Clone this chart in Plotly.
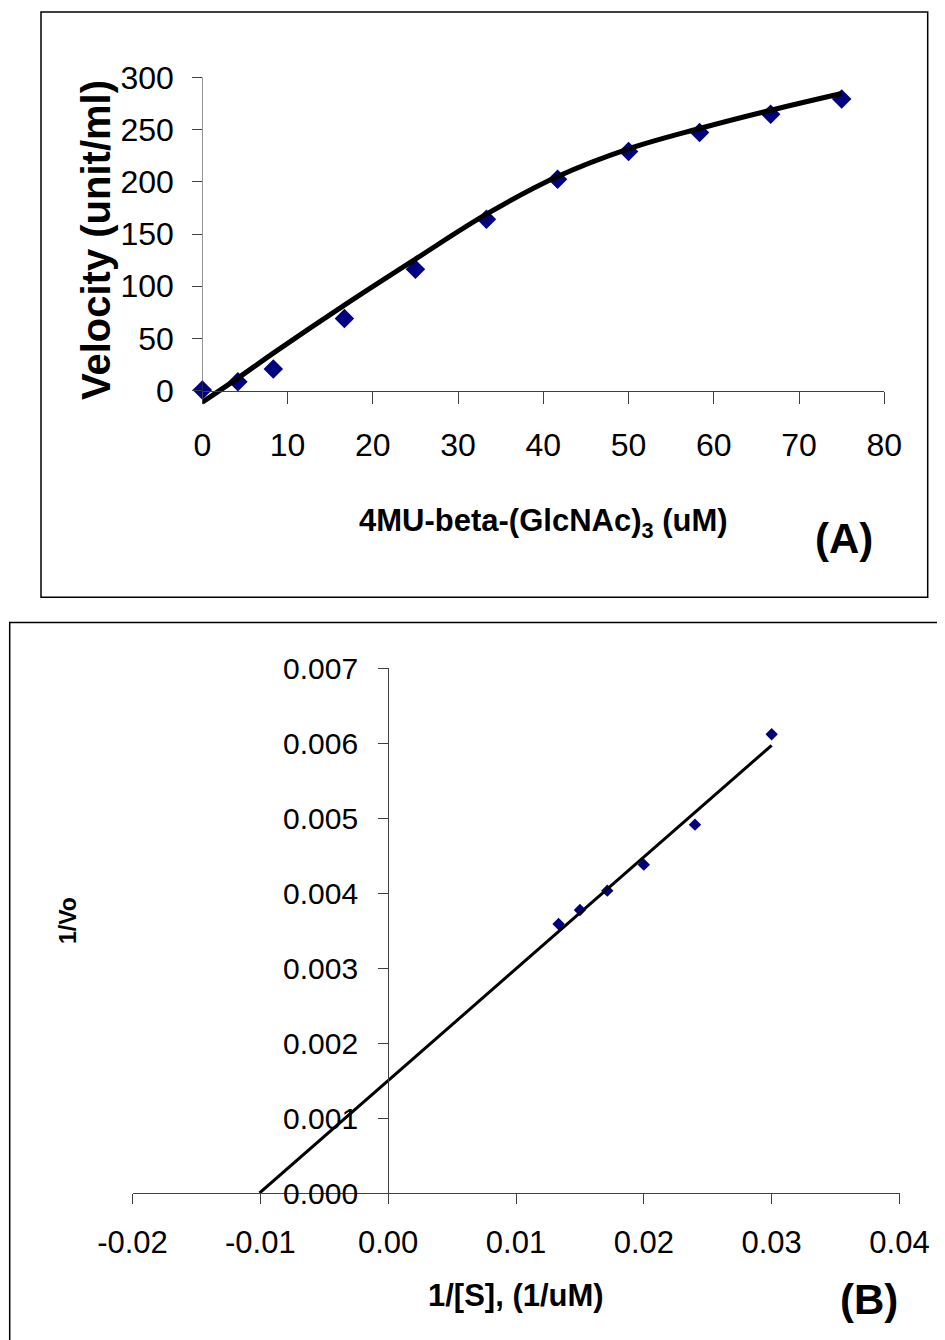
import plotly.graph_objects as go
import numpy as np

# ---------------- data ----------------
# Panel A: substrate concentration vs velocity
conc_uM = [0, 4.17, 8.33, 16.67, 25, 33.33, 41.67, 50, 58.33, 66.67, 75]
velocity = [0.7, 8.6, 20.7, 69.2, 116.3, 164, 202.3, 229, 247.2, 264.7, 279.3]
# fitted (smoothed) curve
fit_conc = [0, 4.17, 8.33, 16.67, 25, 33.33, 41.67, 50, 58.33, 66.67, 75]
fit_vel = [-11, 12, 36, 82, 126, 169, 205, 231.5, 251, 268.5, 284.5]
a_xticks = [0, 10, 20, 30, 40, 50, 60, 70, 80]
a_yticks = [0, 50, 100, 150, 200, 250, 300]

# Panel B: Lineweaver-Burk
inv_S = [0.01333, 0.015, 0.01714, 0.02, 0.024, 0.03]
inv_V = [0.003587, 0.003773, 0.004031, 0.004378, 0.004911, 0.006116]
b_xticks = [-0.02, -0.01, 0.0, 0.01, 0.02, 0.03, 0.04]
b_yticks = [0.0, 0.001, 0.002, 0.003, 0.004, 0.005, 0.006, 0.007]

# page body has an 8px margin; figure is sized so the page fits the window
OFF = 8
W, H = 945 - OFF, 1340 - OFF
def px(x):
    return (x - OFF) / W
def py(y):
    return 1 - (y - OFF) / H

ARIAL = "Liberation Sans, Arial"
NAVY = "#000080"
AX = "#404040"

# linear trendline from data
m, b = np.polyfit(inv_S, inv_V, 1)
xB = np.array([-b / m, max(inv_S)])
yB = m * xB + b

fig = go.Figure()
fig.add_trace(go.Scatter(x=conc_uM, y=velocity, mode="markers",
                         marker=dict(symbol="diamond", size=15, color=NAVY),
                         cliponaxis=False, xaxis="x", yaxis="y", showlegend=False))
fig.add_trace(go.Scatter(x=fit_conc, y=fit_vel, mode="lines",
                         line=dict(color="black", width=5, shape="spline", smoothing=1.0),
                         xaxis="x", yaxis="y", showlegend=False))
fig.add_trace(go.Scatter(x=inv_S, y=inv_V, mode="markers",
                         marker=dict(symbol="diamond", size=9.5, color=NAVY),
                         cliponaxis=False, xaxis="x2", yaxis="y2", showlegend=False))
fig.add_trace(go.Scatter(x=xB, y=yB, mode="lines", line=dict(color="black", width=3),
                         xaxis="x2", yaxis="y2", showlegend=False))

# Panel A geometry (reference pixels)
A_x0, A_x80 = 202.3, 884.3
A_y0, A_y300 = 390.7, 77.3
ppu = (A_y0 - A_y300) / 300
A_ymin = -16
A_bottom = A_y0 - A_ymin * ppu

# Panel B geometry (reference pixels)
B_xl, B_xr = 132.5, 899.5
B_y0, B_ytop = 1193, 668
B_zero_x = B_xl + (B_xr - B_xl) * (0.02 / 0.06)

fig.update_layout(
    template="none",
    width=W, height=H, margin=dict(l=0, r=0, t=0, b=0, pad=0, autoexpand=False),
    paper_bgcolor="white", plot_bgcolor="white", showlegend=False,
    xaxis=dict(domain=[px(A_x0), px(A_x80)], range=[0, 80], anchor="free",
               position=py(A_y0), tickvals=a_xticks, ticktext=[str(v) for v in a_xticks],
               ticks="outside", ticklen=12, tickwidth=1,
               tickcolor=AX, showline=True, linecolor=AX, linewidth=1,
               showgrid=False, zeroline=False, ticklabelstandoff=14, automargin=False,
               tickfont=dict(family=ARIAL, size=32, color="black")),
    yaxis=dict(domain=[py(A_bottom), py(A_y300)], range=[A_ymin, 300], anchor="free",
               position=px(A_x0), tickvals=a_yticks, ticktext=[str(v) for v in a_yticks],
               ticks="outside", ticklen=10, tickwidth=1,
               tickcolor=AX, showline=False, showgrid=False, zeroline=False,
               ticklabelstandoff=12, automargin=False,
               tickfont=dict(family=ARIAL, size=32, color="black")),
    xaxis2=dict(domain=[px(B_xl), px(B_xr)], range=[-0.02, 0.04], anchor="y2",
                tickvals=b_xticks, ticktext=[f"{v:.2f}" for v in b_xticks],
                ticks="outside", ticklen=10, tickwidth=1,
                tickcolor=AX, showline=True, linecolor=AX, linewidth=1,
                showgrid=False, zeroline=False, ticklabelstandoff=12, automargin=False,
                tickfont=dict(family=ARIAL, size=31, color="black")),
    yaxis2=dict(domain=[py(B_y0), py(B_ytop)], range=[0, 0.007], anchor="free",
                position=px(B_zero_x), tickvals=b_yticks,
                ticktext=[f"{v:.3f}" for v in b_yticks],
                ticks="outside", ticklen=10, tickwidth=1, tickcolor=AX, showline=True,
                linecolor=AX, linewidth=1, showgrid=False, zeroline=False,
                ticklabelstandoff=14, automargin=False,
                tickfont=dict(family=ARIAL, size=30, color="black")),
)

shapes = [
    # y axis line of panel A (from 0 to 300 only)
    dict(type="line", xref="x", yref="y", x0=0, x1=0, y0=0, y1=300,
         line=dict(color=AX, width=1)),
    # panel frames
    dict(type="rect", xref="paper", yref="paper", x0=px(41), x1=px(927.7),
         y0=py(597.3), y1=py(12), line=dict(color="black", width=1.5)),
    dict(type="rect", xref="paper", yref="paper", x0=px(9.7), x1=px(970),
         y0=py(1380), y1=py(622.5), line=dict(color="black", width=1.5)),
]
fig.update_layout(shapes=shapes)

ann = [
    dict(text="<b>Velocity (unit/ml)</b>", x=px(96), y=py(240), textangle=-90,
         font=dict(family=ARIAL, size=40, color="black")),
    dict(text="<b>4MU-beta-(GlcNAc)<sub>3</sub> (uM)</b>", x=px(543), y=py(523),
         font=dict(family=ARIAL, size=31, color="black")),
    dict(text="<b>(A)</b>", x=px(844), y=py(538),
         font=dict(family=ARIAL, size=42, color="black")),
    dict(text="<b>1/Vo</b>", x=px(68), y=py(921), textangle=-90,
         font=dict(family=ARIAL, size=23, color="black")),
    dict(text="<b>1/[S], (1/uM)</b>", x=px(516), y=py(1295),
         font=dict(family=ARIAL, size=31, color="black")),
    dict(text="<b>(B)</b>", x=px(869), y=py(1299),
         font=dict(family=ARIAL, size=42, color="black")),
]
for a in ann:
    a.update(xref="paper", yref="paper", showarrow=False, xanchor="center", yanchor="middle")
fig.update_layout(annotations=ann)

fig.write_html("out.html")
